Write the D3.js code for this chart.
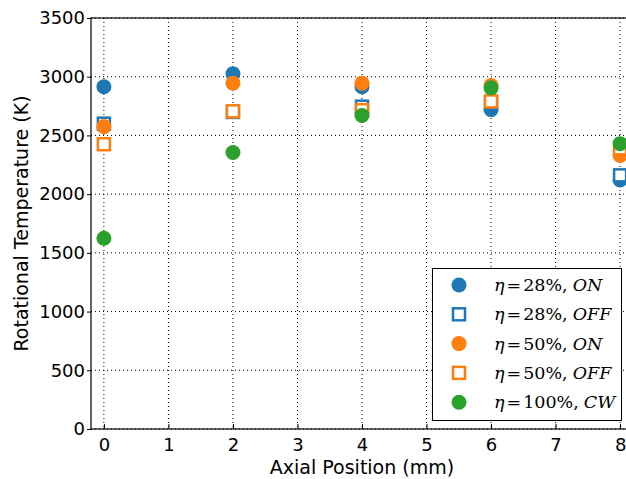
<!DOCTYPE html>
<html>
<head>
<meta charset="utf-8">
<script src="https://cdn.jsdelivr.net/npm/d3@7"></script>
<style>
  html, body { margin: 0; padding: 0; background: #fff; }
  svg { display: block; }
</style>
</head>
<body>
<svg id="chart" width="626" height="479"></svg>
<script>
// Axial positions (mm)
const positions = [0, 2, 4, 6, 8];

// Rotational temperature (K) per duty cycle and plasma phase
const eta28On   = [2915, 3025, 2915, 2720, 2120];
const eta28Off  = [2600, 2700, 2745, 2775, 2160];
const eta50On   = [2575, 2945, 2945, 2925, 2330];
const eta50Off  = [2425, 2705, 2715, 2790, 2390];
const eta100Cw  = [1625, 2355, 2670, 2905, 2430];

const xTicks = [0, 1, 2, 3, 4, 5, 6, 7, 8];
const yTicks = [0, 500, 1000, 1500, 2000, 2500, 3000, 3500];

const series = [
  { eta: "28%",  mode: "ON",  values: eta28On,  color: "#1f77b4", shape: "circle" },
  { eta: "28%",  mode: "OFF", values: eta28Off, color: "#1f77b4", shape: "square" },
  { eta: "50%",  mode: "ON",  values: eta50On,  color: "#ff7f0e", shape: "circle" },
  { eta: "50%",  mode: "OFF", values: eta50Off, color: "#ff7f0e", shape: "square" },
  { eta: "100%", mode: "CW",  values: eta100Cw, color: "#2ca02c", shape: "circle" }
];

const svg = d3.select("#chart");
const plot = { left: 91, right: 633, top: 18, bottom: 429 };

const x = d3.scaleLinear().domain([-0.2, 8.2]).range([plot.left, plot.right]);
const y = d3.scaleLinear().domain([0, 3500]).range([plot.bottom, plot.top]);

const font = "'DejaVu Sans', sans-serif";

// dotted grid
const grid = svg.append("g");
grid.selectAll("line.gx").data(xTicks).join("line")
  .attr("x1", d => x(d)).attr("x2", d => x(d))
  .attr("y1", plot.top).attr("y2", plot.bottom)
  .attr("stroke", "#000").attr("stroke-width", 1)
  .attr("stroke-dasharray", "1,3");
grid.selectAll("line.gy").data(yTicks).join("line")
  .attr("x1", plot.left).attr("x2", plot.right)
  .attr("y1", d => y(d)).attr("y2", d => y(d))
  .attr("stroke", "#000").attr("stroke-width", 1)
  .attr("stroke-dasharray", "1,3");

// axes
const xAxis = d3.axisBottom(x).tickValues(xTicks).tickFormat(d3.format("d"))
  .tickSizeInner(-5).tickSizeOuter(0).tickPadding(9);
const gx = svg.append("g").attr("transform", `translate(0,${plot.bottom})`).call(xAxis);
gx.select(".domain").remove();
gx.selectAll("text").attr("font-family", font).attr("font-size", 18).attr("fill", "#000");
gx.selectAll("line").attr("stroke", "#000");

const yAxis = d3.axisLeft(y).tickValues(yTicks).tickFormat(d3.format("d"))
  .tickSizeInner(4).tickSizeOuter(0).tickPadding(2);
const gy = svg.append("g").attr("transform", `translate(${plot.left},0)`).call(yAxis);
gy.select(".domain").remove();
gy.selectAll("text").attr("font-family", font).attr("font-size", 18).attr("fill", "#000");
gy.selectAll("line").attr("stroke", "#000");

// frame
svg.append("rect")
  .attr("x", plot.left).attr("y", plot.top)
  .attr("width", plot.right - plot.left).attr("height", plot.bottom - plot.top)
  .attr("fill", "none").attr("stroke", "#000").attr("stroke-width", 1.2);

// axis titles
svg.append("text")
  .attr("x", (plot.left + plot.right) / 2).attr("y", 474)
  .attr("text-anchor", "middle")
  .attr("font-family", font).attr("font-size", 19)
  .text("Axial Position (mm)");
svg.append("text")
  .attr("transform", `translate(28,${(plot.top + plot.bottom) / 2}) rotate(-90)`)
  .attr("text-anchor", "middle")
  .attr("font-family", font).attr("font-size", 19)
  .text("Rotational Temperature (K)");

function drawMarker(g, s, cx, cy) {
  if (s.shape === "circle") {
    g.append("circle").attr("cx", cx).attr("cy", cy).attr("r", 7.5)
      .attr("fill", s.color);
  } else {
    g.append("rect").attr("x", cx - 6).attr("y", cy - 6)
      .attr("width", 12).attr("height", 12)
      .attr("fill", "#fff").attr("stroke", s.color).attr("stroke-width", 2.5);
  }
}

// data markers
const marks = svg.append("g");
series.forEach(s => {
  const g = marks.append("g");
  s.values.forEach((v, i) => drawMarker(g, s, x(positions[i]), y(v)));
});

// legend
const legend = svg.append("g");
legend.append("rect")
  .attr("x", 432.5).attr("y", 268.5).attr("width", 189).attr("height", 152)
  .attr("fill", "#fff").attr("stroke", "#000").attr("stroke-width", 1);
const serif = "'DejaVu Serif', serif";
series.forEach((s, i) => {
  const cy = 285 + i * 29.3;
  drawMarker(legend, s, 459, cy);
  const t = legend.append("text")
    .attr("x", 494).attr("y", cy + 6)
    .attr("font-family", serif).attr("font-size", 17.5).attr("fill", "#000");
  t.append("tspan").attr("font-style", "italic").text("η");
  t.append("tspan").attr("dx", 2).text("=");
  t.append("tspan").attr("dx", 2).text(s.eta + ",");
  t.append("tspan").attr("dx", 5).attr("font-style", "italic").text(s.mode);
});
</script>
</body>
</html>
